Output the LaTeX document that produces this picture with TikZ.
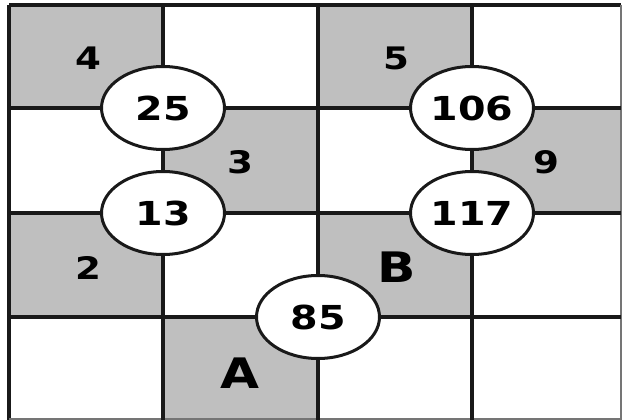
\documentclass[tikz,border=0pt]{standalone}
\usepackage{fontspec}
\setmainfont{DejaVu Sans}
\usetikzlibrary{shapes.geometric}
\definecolor{cellgray}{RGB}{191,191,191}
\definecolor{linecol}{RGB}{25,25,25}
\newcommand{\widetxt}[1]{\scalebox{1.2}[1]{#1}}
\tikzset{
  shade/.style={fill=cellgray},
  gridline/.style={draw=linecol, line width=3.3pt},
  num/.style={ellipse, draw=linecol, line width=3pt, fill=white, minimum width=123pt, minimum height=83pt, inner sep=0pt, font=\bfseries\fontsize{33}{33}\selectfont},
  lab/.style={inner sep=0pt, font=\bfseries\fontsize{31}{31}\selectfont},
  biglab/.style={inner sep=0pt, font=\bfseries\fontsize{42}{42}\selectfont}
}
\begin{document}
\begin{tikzpicture}[x=1pt,y=-1pt]
\useasboundingbox (0,0) rectangle (622,420);
\fill[white] (0,0) rectangle (622,420);
% shaded cells
\fill[shade] (9,5) rectangle (163,108);
\fill[shade] (318,5) rectangle (472,108);
\fill[shade] (163,108) rectangle (318,213);
\fill[shade] (472,108) rectangle (621,213);
\fill[shade] (9,213) rectangle (163,317);
\fill[shade] (318,213) rectangle (472,317);
\fill[shade] (163,317) rectangle (318,418);
% grid
\draw[gridline] (9,5) -- (621,5);
\draw[gridline] (9,5) -- (9,420);
\draw[draw=linecol!60, line width=1.5pt] (621,5) -- (621,420);
\draw[draw=linecol!60, line width=1.5pt] (9,419) -- (621,419);
\draw[gridline] (163,5) -- (163,420);
\draw[gridline] (318,5) -- (318,420);
\draw[gridline] (472,5) -- (472,420);
\draw[gridline] (9,108) -- (621,108);
\draw[gridline] (9,213) -- (621,213);
\draw[gridline] (9,317) -- (621,317);
% circles
\node[num] (n25) at (163,108) {\widetxt{25}};
\node[num] (n13) at (163,213) {\widetxt{13}};
\node[num] (n106) at (472,108) {\widetxt{106}};
\node[num] (n117) at (472,213) {\widetxt{117}};
\node[num] (n85) at (318,317) {\widetxt{85}};
% labels
\node[lab] (l4) at (88,58) {\widetxt{4}};
\node[lab] (l5) at (396,58) {\widetxt{5}};
\node[lab] (l3) at (240,162) {\widetxt{3}};
\node[lab] (l9) at (546,162) {\widetxt{9}};
\node[lab] (l2) at (88,268) {\widetxt{2}};
\node[biglab] (lB) at (397,267) {\widetxt{B}};
\node[biglab] (lA) at (240,373) {\widetxt{A}};
\end{tikzpicture}
\end{document}
